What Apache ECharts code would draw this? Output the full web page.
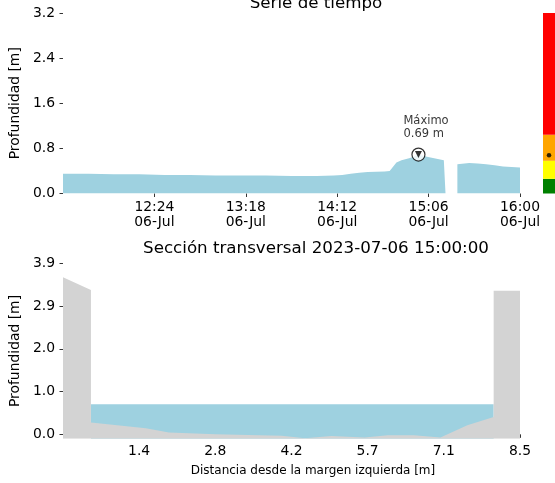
<!DOCTYPE html>
<html>
<head>
<meta charset="utf-8">
<script src="https://cdn.jsdelivr.net/npm/echarts@6/dist/echarts.min.js"></script>
<style>
html,body{margin:0;padding:0;background:#fff;}
#c{width:555px;height:483px;}
</style>
</head>
<body>
<div id="c"></div>
<script>
// ---- Data ----
const seriesTimes = ["11:30","11:45","12:00","12:15","12:30","12:45","13:00","13:15","13:30","13:45","14:00","14:10","14:15","14:20","14:25","14:30","14:40","14:43","14:47","14:50","14:55","15:00","15:05","15:10","15:15","15:16","15:19","15:23","15:30","15:35","15:40","15:45","15:50","15:55","16:00"];
const seriesDepth = [0.35,0.35,0.34,0.34,0.33,0.33,0.32,0.32,0.32,0.31,0.31,0.32,0.33,0.35,0.37,0.38,0.39,0.40,0.55,0.59,0.63,0.69,0.65,0.62,0.59,0.57,null,0.52,0.54,0.53,0.52,0.50,0.48,0.47,0.46];
const maxTime = "15:00";
const maxDepth = 0.69;
const timeTicks = ["12:24","13:18","14:12","15:06","16:00"];
const depthTicksTop = [0, 0.8, 1.6, 2.4, 3.2];

const levelBands = [0.26, 0.32, 0.46, 2.16]; // green, yellow, orange, red (stacked heights)
const levelColors = ["#008000","#ffff00","#ffa500","#ff0000"];
const currentLevel = 0.68;

const bedX = [0, 0.52, 0.52, 1.54, 1.97, 2.83, 4.07, 4.50, 4.99, 5.61, 6.04, 6.53, 7.02, 7.52, 8.01, 8.01, 8.5, 8.5];
const bedY = [3.60, 3.31, 0.27, 0.14, 0.04, 0.00, -0.03, -0.09, -0.04, -0.07, -0.02, -0.02, -0.07, 0.21, 0.40, 3.29, 3.29, -0.10];
const waterX = [0.52, 8.01];
const waterLevel = 0.69;
const distTicks = [8.5/6, 2*8.5/6, 3*8.5/6, 4*8.5/6, 5*8.5/6, 8.5];
const distTickLabels = ["1.4","2.8","4.2","5.7","7.1","8.5"];
const depthTicksBottom = [0, 0.98, 1.96, 2.94, 3.92];
const depthTickLabelsBottom = ["0.0","1.0","2.0","2.9","3.9"];

// ---- helpers ----
const day = "2023-07-06";
const ts = t => Date.parse(day + "T" + t + ":00Z");
const pad = n => (n < 10 ? "0" : "") + n;
const nearestLabel = (v, vals, labels) => {
  let bi = 0, bd = Infinity;
  vals.forEach((x, i) => { const d = Math.abs(x - v); if (d < bd) { bd = d; bi = i; } });
  return labels[bi];
};

const FONT = "DejaVu Sans";
const txt = {fontFamily: FONT, fontSize: 13.9, color: "#000"};
const blue = "#9ed1e0";
const gray = "#d3d3d3";

const chart = echarts.init(document.getElementById("c"), null, {renderer: "canvas"});

const option = {
  animation: false,
  backgroundColor: "#fff",
  title: [
    {text: "Serie de tiempo", left: 311, top: -10, textAlign: "center",
     textStyle: {fontFamily: FONT, fontSize: 16.7, fontWeight: "normal", color: "#000"}},
    {text: "Sección transversal 2023-07-06 15:00:00", left: 311, top: 235, textAlign: "center",
     textStyle: {fontFamily: FONT, fontSize: 16.7, fontWeight: "normal", color: "#000"}}
  ],
  grid: [
    {left: 60, right: 35, top: 13, bottom: 289.5},
    {left: 543, width: 18, top: 13, bottom: 289.5},
    {left: 60, right: 35, top: 263.3, bottom: 44.3}
  ],
  xAxis: [
    {type: "value", gridIndex: 0, min: ts("11:30"), max: ts("16:00"),
     axisLine: {show: false}, splitLine: {show: false},
     axisTick: {show: true, length: 3.5, lineStyle: {color: "#000", width: 0.8}, customValues: timeTicks.map(ts)},
     axisLabel: {customValues: timeTicks.map(ts), margin: 6, ...txt, lineHeight: 15.5,
       formatter: v => { const d = new Date(v); return pad(d.getUTCHours()) + ":" + pad(d.getUTCMinutes()) + "\n06-Jul"; }}},
    {type: "category", gridIndex: 1, data: ["nivel"], show: false, boundaryGap: true},
    {type: "value", gridIndex: 2, min: 0, max: 8.5,
     axisLine: {show: false}, splitLine: {show: false},
     axisTick: {show: true, length: 3.5, lineStyle: {color: "#000", width: 0.8}, customValues: distTicks},
     axisLabel: {customValues: distTicks, margin: 6, ...txt,
       formatter: v => nearestLabel(v, distTicks, distTickLabels)},
     name: "Distancia desde la margen izquierda [m]", nameLocation: "middle", nameGap: 26,
     nameTextStyle: {fontFamily: FONT, fontSize: 12, color: "#000", padding: [0, 0, 0, 43]}}
  ],
  yAxis: [
    {type: "value", gridIndex: 0, min: 0, max: 3.2,
     axisLine: {show: false}, splitLine: {show: false},
     axisTick: {show: true, length: 3.5, lineStyle: {color: "#000", width: 0.8}, customValues: depthTicksTop},
     axisLabel: {customValues: depthTicksTop, margin: 8, ...txt, formatter: v => v.toFixed(1)},
     name: "Profundidad [m]", nameLocation: "middle", nameGap: 36, nameRotate: 90,
     nameTextStyle: {fontFamily: FONT, fontSize: 13.9, color: "#000"}},
    {type: "value", gridIndex: 1, min: 0, max: 3.2, show: false},
    {type: "value", gridIndex: 2, min: -0.1, max: 3.92,
     axisLine: {show: false}, splitLine: {show: false},
     axisTick: {show: true, length: 3.5, lineStyle: {color: "#000", width: 0.8}, customValues: depthTicksBottom},
     axisLabel: {customValues: depthTicksBottom, margin: 8, ...txt,
       formatter: v => nearestLabel(v, depthTicksBottom, depthTickLabelsBottom)},
     name: "Profundidad [m]", nameLocation: "middle", nameGap: 36, nameRotate: 90,
     nameTextStyle: {fontFamily: FONT, fontSize: 13.9, color: "#000"}}
  ],
  series: [
    {type: "line", xAxisIndex: 0, yAxisIndex: 0, showSymbol: false, connectNulls: false,
     data: seriesTimes.map((t, i) => [ts(t), seriesDepth[i]]),
     lineStyle: {width: 0}, itemStyle: {color: blue}, areaStyle: {color: blue, opacity: 1, origin: "start"}},
    {type: "scatter", xAxisIndex: 0, yAxisIndex: 0, symbol: "circle", symbolSize: 13, z: 5,
     itemStyle: {color: "#fff", borderColor: "#000", borderWidth: 1.2},
     label: {show: true, position: "top", align: "left", offset: [-15, -2], distance: 5,
       formatter: "Máximo\n" + maxDepth.toFixed(2) + " m", fontFamily: FONT, fontSize: 11.5, color: "#000", lineHeight: 13},
     data: [[ts(maxTime), maxDepth]]},
    {type: "scatter", xAxisIndex: 0, yAxisIndex: 0, symbol: "triangle", symbolRotate: 180, symbolSize: 7, z: 6,
     itemStyle: {color: "#000"}, data: [[ts(maxTime), maxDepth]]},
    ...levelBands.map((v, i) => ({type: "bar", xAxisIndex: 1, yAxisIndex: 1, stack: "lv", barWidth: "100%",
      barCategoryGap: "0%", itemStyle: {color: levelColors[i]}, data: [v]})),
    {type: "scatter", xAxisIndex: 1, yAxisIndex: 1, symbol: "circle", symbolSize: 4.5, z: 5,
     itemStyle: {color: "#000"}, data: [[0, currentLevel]]},
    {type: "line", xAxisIndex: 2, yAxisIndex: 2, showSymbol: false,
     data: waterX.map(x => [x, waterLevel]),
     lineStyle: {width: 0}, itemStyle: {color: blue}, areaStyle: {color: blue, opacity: 1, origin: "start"}},
    {type: "line", xAxisIndex: 2, yAxisIndex: 2, showSymbol: false,
     data: bedX.map((x, i) => [x, bedY[i]]),
     lineStyle: {width: 0}, itemStyle: {color: gray}, areaStyle: {color: gray, opacity: 1, origin: "start"}}
  ]
};
chart.setOption(option);
</script>
</body>
</html>
